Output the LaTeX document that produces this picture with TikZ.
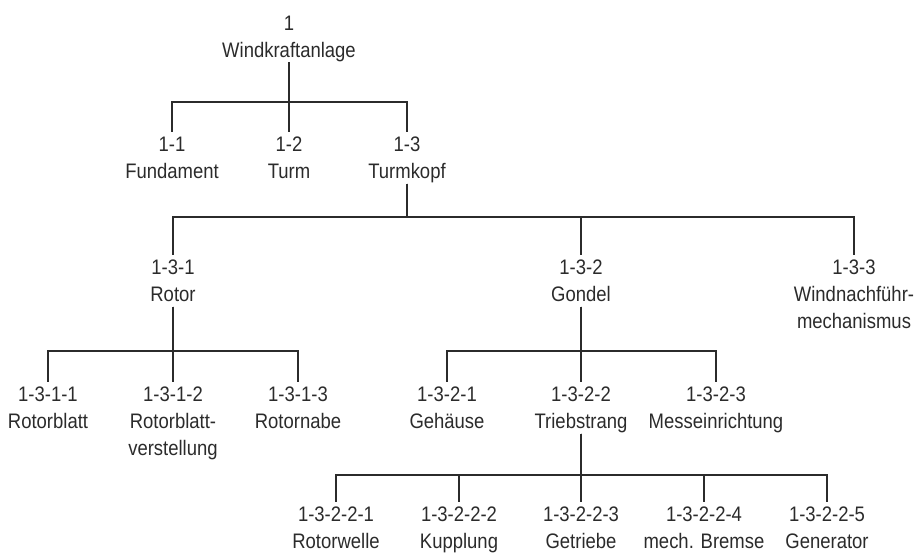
\documentclass[tikz,border=0pt]{standalone}
\usepackage{fontspec}
\setmainfont[FakeStretch=0.88]{Liberation Sans}
\definecolor{ink}{HTML}{2B2B2B}
\tikzset{
  item/.style={anchor=north, align=center, inner sep=0pt, outer sep=5pt, text depth=0pt,
    font=\fontsize{21}{27}\selectfont, text=ink},
  conn/.style={draw=ink, line width=1.9pt}
}
\begin{document}
\begin{tikzpicture}[x=1pt, y=-1pt]
\useasboundingbox (0,0) rectangle (924,556);
% level 0
\node[item] (n1) at (289,11) {1\\Windkraftanlage};
% level 1
\node[item] (n11) at (172,132) {1-1\\Fundament};
\node[item] (n12) at (289,132) {1-2\\Turm};
\node[item] (n13) at (407,132) {1-3\\Turmkopf};
% level 2
\node[item] (n131) at (173,255) {1-3-1\\Rotor};
\node[item] (n132) at (581,255) {1-3-2\\Gondel};
\node[item] (n133) at (854,255) {1-3-3\\Windnachführ-\\mechanismus};
% level 3
\node[item] (n1311) at (48,382) {1-3-1-1\\Rotorblatt};
\node[item] (n1312) at (173,382) {1-3-1-2\\Rotorblatt-\\verstellung};
\node[item] (n1313) at (298,382) {1-3-1-3\\Rotornabe};
\node[item] (n1321) at (447,382) {1-3-2-1\\Gehäuse};
\node[item] (n1322) at (581,382) {1-3-2-2\\Triebstrang};
\node[item] (n1323) at (716,382) {1-3-2-3\\Messeinrichtung};
% level 4
\node[item] (n13221) at (336,502) {1-3-2-2-1\\Rotorwelle};
\node[item] (n13222) at (459,502) {1-3-2-2-2\\Kupplung};
\node[item] (n13223) at (581,502) {1-3-2-2-3\\Getriebe};
\node[item] (n13224) at (704,502) {1-3-2-2-4\\mech. Bremse};
\node[item] (n13225) at (827,502) {1-3-2-2-5\\Generator};
% bar levels
\coordinate (b0) at (0,102);
\coordinate (b1) at (0,217);
\coordinate (b2) at (0,351);
\coordinate (b3) at (0,475);
% connectors
\foreach \c in {n11,n12,n13}
  \draw[conn] (n1.south) -- (n1.south |- b0) -| (\c.north);
\foreach \c in {n131,n132,n133}
  \draw[conn] (n13.south) -- (n13.south |- b1) -| (\c.north);
\foreach \c in {n1311,n1312,n1313}
  \draw[conn] (n131.south) -- (n131.south |- b2) -| (\c.north);
\foreach \c in {n1321,n1322,n1323}
  \draw[conn] (n132.south) -- (n132.south |- b2) -| (\c.north);
\foreach \c in {n13221,n13222,n13223,n13224,n13225}
  \draw[conn] (n1322.south) -- (n1322.south |- b3) -| (\c.north);
\end{tikzpicture}
\end{document}
